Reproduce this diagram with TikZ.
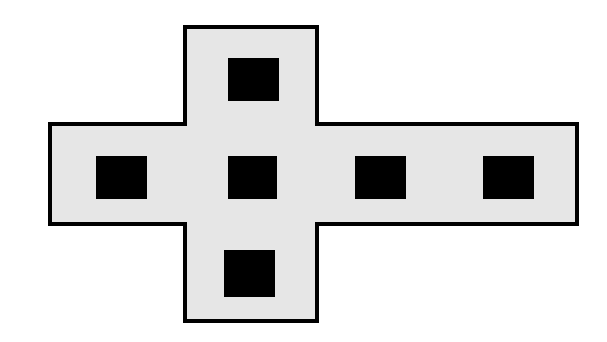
\documentclass[tikz,border=0pt]{standalone}
\usepackage{xcolor,tikz}
\definecolor{netgray}{HTML}{E6E6E6}

\begin{document}
\begin{tikzpicture}[x=1pt,y=-1pt,
 net/.style={draw=black,line width=3.5pt,fill=netgray,line join=miter},
 blk/.style={fill=black,inner sep=0pt,minimum width=51pt,minimum height=43pt}]
\useasboundingbox (0,0) rectangle (607,341);
% outline of the net
\draw[net] (185,27) -- (317,27) -- (317,124) -- (577,124) -- (577,224) -- (317,224)
 -- (317,321) -- (185,321) -- (185,224) -- (50,224) -- (50,124) -- (185,124) -- cycle;
% black faces
\node[blk] (top) at (253,79) {};
\node[blk] (left) at (121.5,177) {};
\node[blk,minimum width=49pt] (mid) at (252,177) {};
\node[blk] (third) at (380,177) {};
\node[blk] (right) at (508,177) {};
\node[blk,minimum height=47pt] (bottom) at (249,273.5) {};
\end{tikzpicture}
\end{document}
